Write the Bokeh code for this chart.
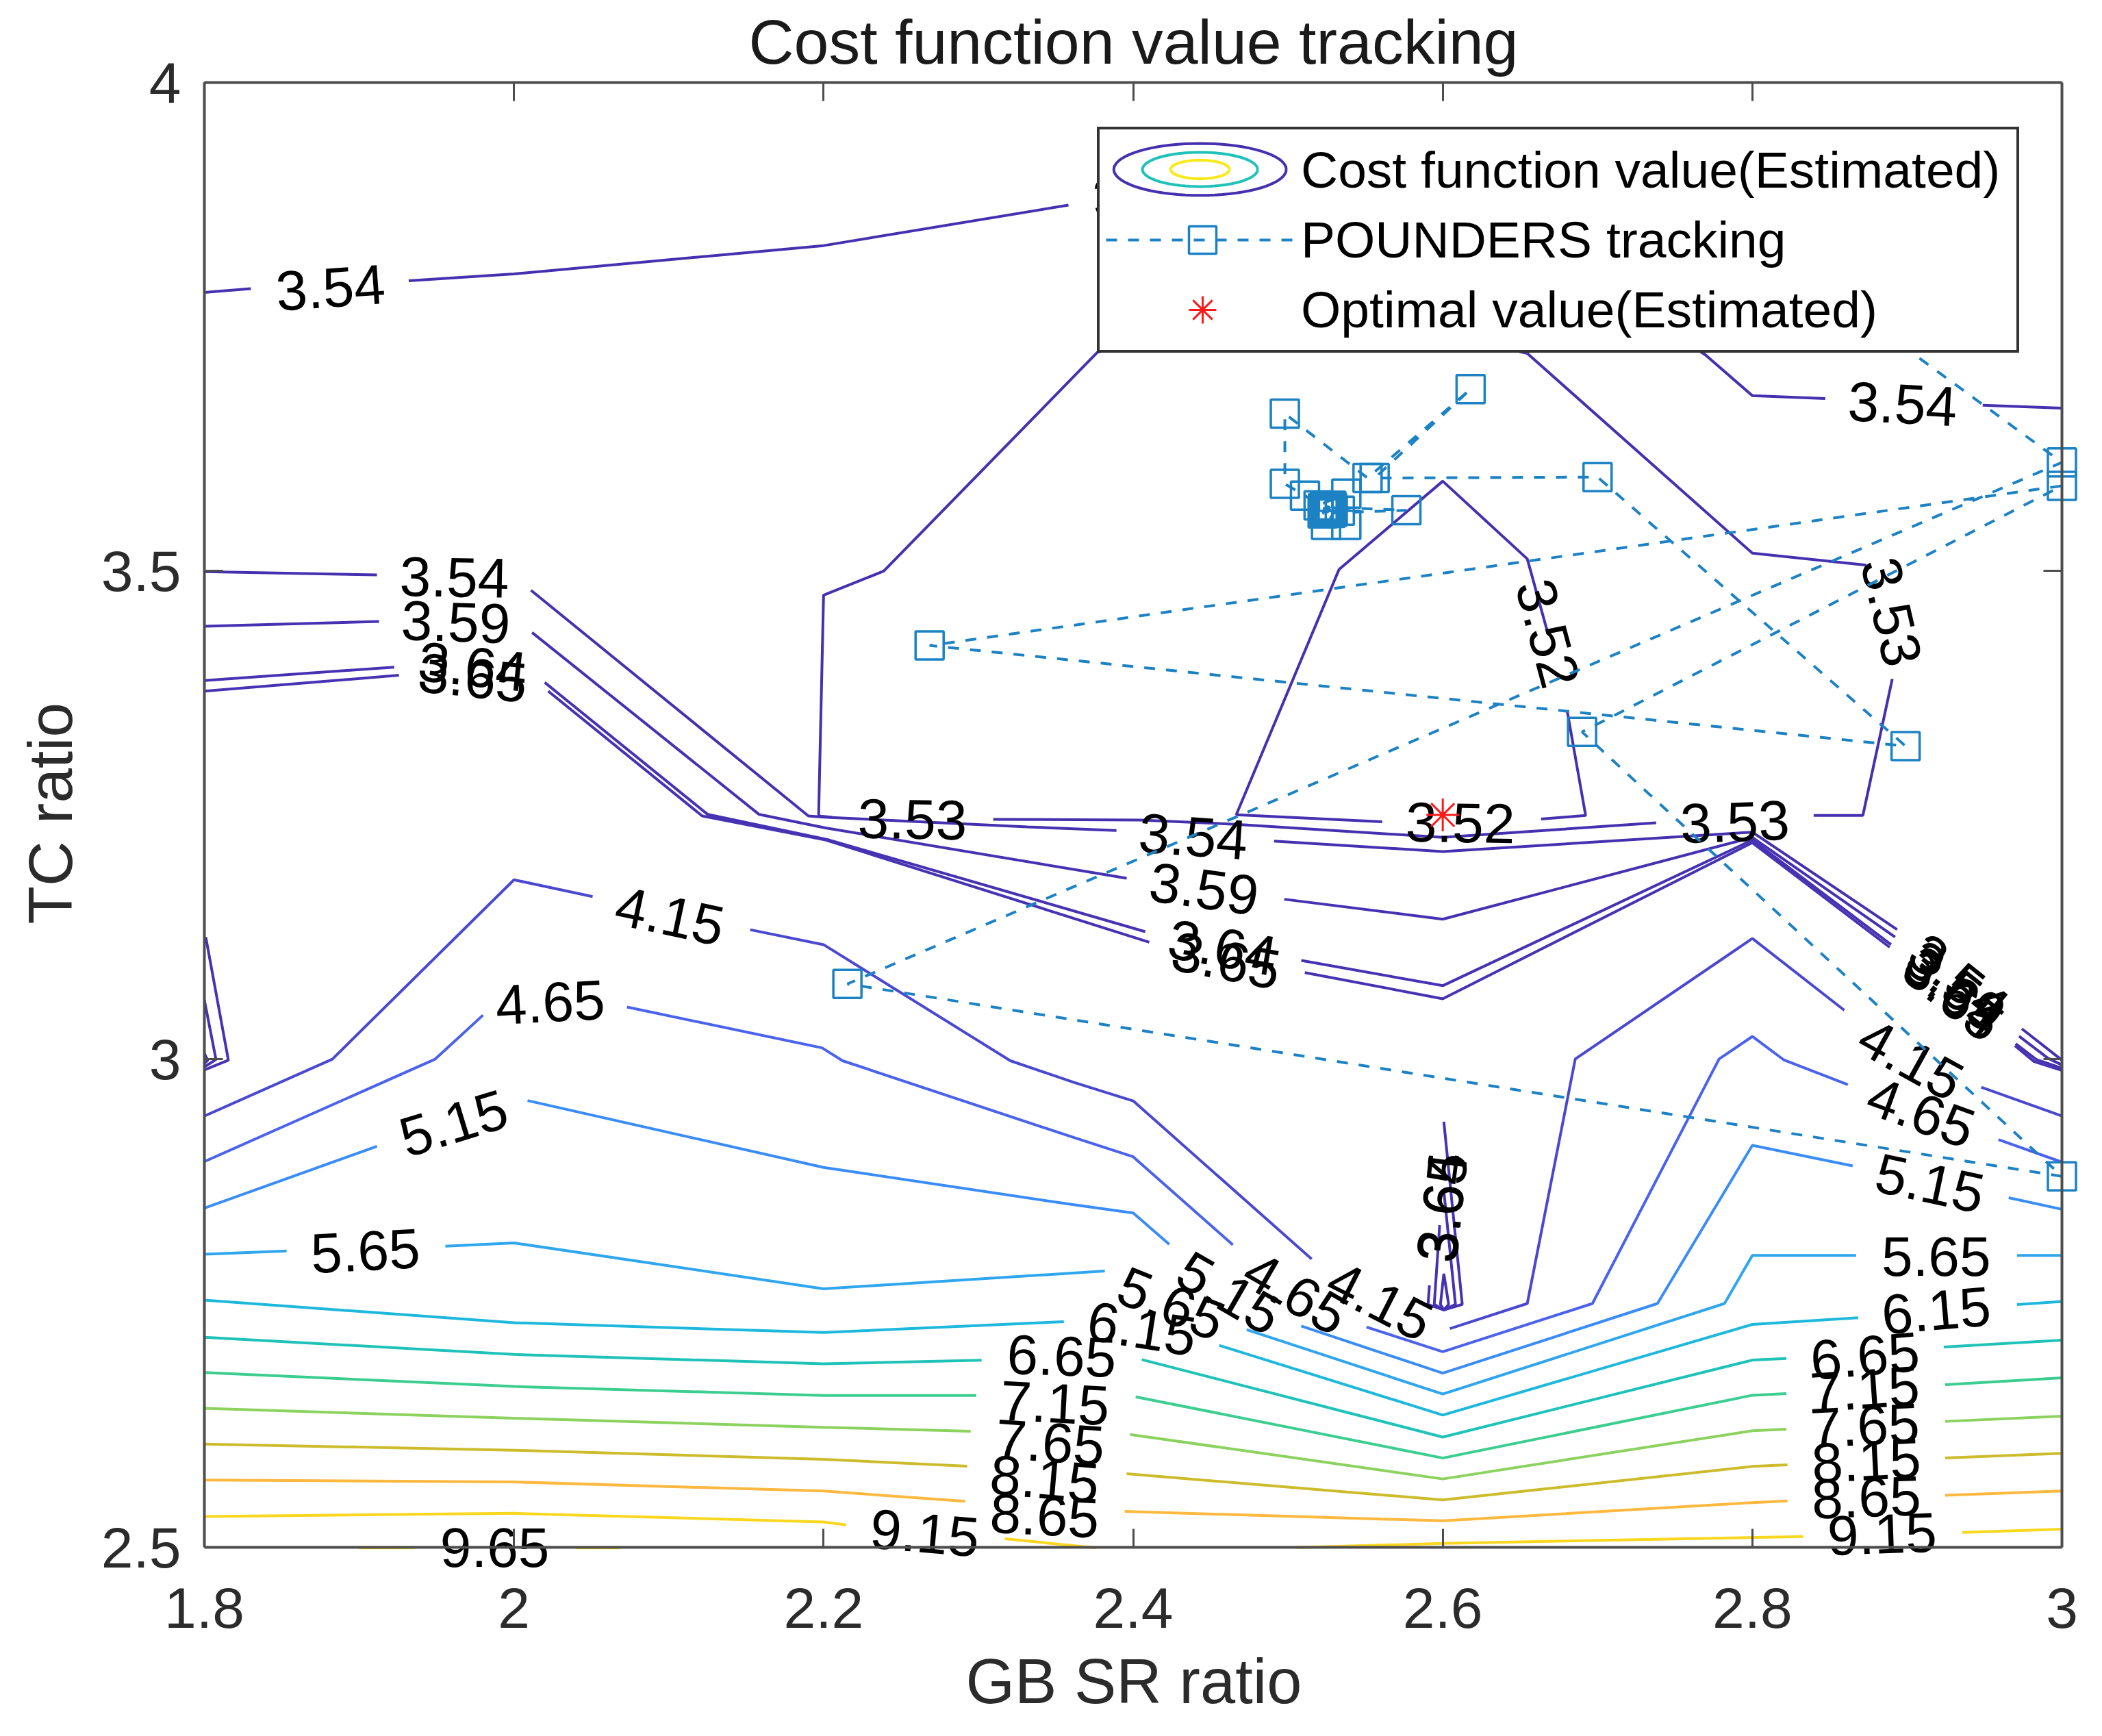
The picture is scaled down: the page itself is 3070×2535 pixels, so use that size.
import numpy as np
from bokeh.plotting import figure
from bokeh.embed import file_html
from bokeh.resources import INLINE
from bokeh.core.properties import value
from bokeh.models import FixedTicker, LinearAxis, Legend, LegendItem, Range1d, Title

FONT = "Liberation Sans"

title_text = "Cost function value tracking"
x_label = "GB SR ratio"
y_label = "TC ratio"
x_ticks = [1.8, 2.0, 2.2, 2.4, 2.6, 2.8, 3.0]
x_tick_labels = ["1.8", "2", "2.2", "2.4", "2.6", "2.8", "3"]
y_ticks = [2.5, 3.0, 3.5, 4.0]
y_tick_labels = ["2.5", "3", "3.5", "4"]

# contour polylines, per level; each piece is a run between two label gaps
c352 = [
    [(2.6679, 3.436), (2.6546, 3.5122), (2.6, 3.5918), (2.533, 3.5014), (2.4666, 3.2502), (2.5609, 3.2431)],
    [(2.6635, 3.2458), (2.6923, 3.2495), (2.6803, 3.3573)],
]
c353 = [
    [(2.6546, 3.7226), (2.5, 3.78), (2.3768, 3.7236), (2.2389, 3.4997), (2.2, 3.4751), (2.1968, 3.249), (2.2057, 3.2475)],
    [(2.3096, 3.2455), (2.4047, 3.2447), (2.4666, 3.2404), (2.6, 3.227), (2.7378, 3.242)],
    [(2.8396, 3.2495), (2.8714, 3.2495), (2.8904, 3.3893)],
    [(2.8736, 3.5058), (2.8, 3.5181), (2.6546, 3.7226)],
]
c354 = [
    [(1.8, 3.785), (1.83, 3.789)],
    [(1.932, 3.797), (2.0, 3.804), (2.2, 3.833), (2.3582, 3.8745)],
    [(2.45, 3.89), (2.6, 3.9), (2.7697, 3.7211), (2.8, 3.6793), (2.8471, 3.6764)],
    [(2.9488, 3.6695), (3.0, 3.6665)],
    [(1.8, 3.4992), (1.9115, 3.4958)],
    [(2.011, 3.48), (2.1902, 3.249), (2.2, 3.2478), (2.3317, 3.2377), (2.3892, 3.234)],
    [(2.491, 3.2232), (2.6, 3.2125), (2.8, 3.2324), (2.8935, 3.1327)],
    [(2.9741, 3.0311), (3.0, 2.9989)],
]
c359 = [
    [(1.8, 3.4432), (1.9128, 3.4481)],
    [(2.0117, 3.4368), (2.1584, 3.2505), (2.2013, 3.2367), (2.3958, 3.1852)],
    [(2.4976, 3.1637), (2.6, 3.1433), (2.8, 3.227), (2.8922, 3.125)],
    [(2.9723, 3.0234), (2.9909, 3.001), (3.0, 2.994)],
    [(1.8, 3.0058), (1.8022, 2.9989), (1.8, 2.9954)],
    [(2.6007, 2.7803), (2.6038, 2.7488), (2.6007, 2.7432), (2.5985, 2.7488), (2.6007, 2.7803)],
]
c364 = [
    [(1.8, 3.3876), (1.9226, 3.4014)],
    [(2.0199, 3.3856), (2.1252, 3.2505), (2.2035, 3.2244), (2.4078, 3.1305)],
    [(2.5086, 3.101), (2.6, 3.0752), (2.8, 3.2243), (2.8896, 3.1173)],
    [(2.9701, 3.0158), (2.9834, 2.9996), (3.0, 2.9907)],
    [(1.8, 3.0605), (1.8075, 2.9996), (1.8, 2.9919)],
    [(2.6007, 2.865), (2.6082, 2.7488), (2.6007, 2.7432), (2.5945, 2.7488), (2.598, 2.83)],
]
c365 = [
    [(1.8, 3.3768), (1.9257, 3.393)],
    [(2.0221, 3.3768), (2.1216, 3.249), (2.2013, 3.2244), (2.4104, 3.1197)],
    [(2.5109, 3.0886), (2.6, 3.0618), (2.8, 3.2216), (2.8887, 3.1145)],
    [(2.9696, 3.0137), (2.982, 2.9975), (3.0, 2.9884)],
    [(1.8009, 3.125), (1.8155, 2.9989), (1.8, 2.9889)],
    [(2.6007, 2.9359), (2.6126, 2.7488), (2.6007, 2.7432), (2.5905, 2.7488), (2.5914, 2.7684)],
]
c415 = [
    [(1.8, 2.9417), (1.8827, 3.0), (2.0, 3.1836), (2.0508, 3.1664)],
    [(2.1526, 3.1325), (2.2, 3.1172), (2.3207, 2.9983), (2.3618, 2.9761), (2.4, 2.9572), (2.5153, 2.7953)],
    [(2.6046, 2.724), (2.6546, 2.7497), (2.6856, 3.0001), (2.8, 3.1235), (2.8594, 3.05)],
    [(2.9479, 2.9712), (3.0, 2.9417)],
]
c465 = [
    [(1.8, 2.895), (1.9491, 3.0), (1.98, 3.045)],
    [(2.073, 3.0533), (2.199, 3.0115), (2.2123, 2.9983), (2.3618, 2.9196), (2.4, 2.9), (2.4644, 2.8098)],
    [(2.5507, 2.7256), (2.6, 2.7004), (2.6967, 2.7497), (2.7785, 3.0001), (2.8, 3.0232), (2.8205, 2.999), (2.8617, 2.9739)],
    [(2.959, 2.9176), (3.0, 2.8945)],
]
c515 = [
    [(1.8, 2.8474), (1.9115, 2.9108)],
    [(2.0088, 2.9575), (2.2, 2.8891), (2.3618, 2.8508), (2.4, 2.8425), (2.4233, 2.8103)],
    [(2.5086, 2.7266), (2.6, 2.6784), (2.7387, 2.7497), (2.8, 2.9117), (2.8648, 2.8907)],
    [(2.9656, 2.858), (3.0, 2.8462)],
]
c565 = [
    [(1.8, 2.8002), (1.8531, 2.8036)],
    [(1.9557, 2.8084), (2.0, 2.8118), (2.2, 2.7648), (2.3817, 2.783)],
    [(2.4733, 2.7229), (2.6, 2.657), (2.782, 2.7497), (2.8, 2.799), (2.867, 2.799)],
    [(2.971, 2.799), (3.0, 2.799)],
]
c615 = [
    [(1.8, 2.7532), (2.0, 2.7301), (2.2, 2.72), (2.3552, 2.7312)],
    [(2.4556, 2.7068), (2.6, 2.6355), (2.8, 2.7283), (2.8683, 2.7352)],
    [(2.971, 2.7486), (3.0, 2.7518)],
]
c665 = [
    [(1.8, 2.7152), (2.0, 2.6976), (2.2, 2.688), (2.3021, 2.6917)],
    [(2.4056, 2.6923), (2.6, 2.613), (2.8, 2.6918), (2.822, 2.6934)],
    [(2.9236, 2.7052), (3.0, 2.7122)],
]
c715 = [
    [(1.8, 2.679), (2.0, 2.6648), (2.2, 2.6555), (2.2986, 2.6555)],
    [(2.4016, 2.6542), (2.6, 2.5915), (2.8, 2.6558), (2.822, 2.6575)],
    [(2.9245, 2.6666), (3.0, 2.6736)],
]
c765 = [
    [(1.8, 2.6424), (2.0, 2.6323), (2.2, 2.623), (2.295, 2.6189)],
    [(2.398, 2.6156), (2.6, 2.5701), (2.8, 2.6194), (2.822, 2.621)],
    [(2.9245, 2.629), (3.0, 2.6344)],
]
c815 = [
    [(1.8, 2.6058), (2.0, 2.5995), (2.2, 2.5902), (2.2928, 2.5831)],
    [(2.3958, 2.5754), (2.6, 2.5486), (2.8, 2.5829), (2.8227, 2.5845)],
    [(2.9245, 2.5915), (3.0, 2.5963)],
]
c865 = [
    [(1.8, 2.569), (2.0, 2.567), (2.2, 2.5577), (2.2915, 2.5472)],
    [(2.3945, 2.5368), (2.6, 2.5272), (2.8, 2.5459), (2.8227, 2.5475)],
    [(2.9245, 2.5534), (3.0, 2.5577)],
]
c915 = [
    [(1.8, 2.5316), (2.0, 2.5349), (2.2, 2.526), (2.2145, 2.523)],
    [(2.3172, 2.5088), (2.376, 2.4995)],
    [(2.5056, 2.4998), (2.6, 2.5041), (2.8329, 2.5111)],
    [(2.9355, 2.5153), (3.0, 2.5186)],
]
c965 = [
    [(1.9, 2.4995), (1.9358, 2.4995)],
    [(2.0398, 2.4995), (2.0686, 2.4995)],
]

contour_levels = [c352, c353, c354, c359, c364, c365, c415, c465, c515, c565,
                  c615, c665, c715, c765, c815, c865, c915, c965]
contour_colors = ["#4630b0", "#4630b0", "#4630b0", "#4631b2", "#4632b3", "#4633b4",
                  "#4a48d0", "#4a62ec", "#3a8cf8", "#2fa6ee", "#1db8dc", "#1fc2b8",
                  "#3ccd90", "#8cd25f", "#ccbc2c", "#fdb83f", "#f9d71e", "#f9e81a"]

label_text = ["3.54", "3.54", "3.54", "3.59", "3.64", "3.65", "3.53", "3.54", "3.59", "3.64",
              "3.65", "3.52", "3.53", "3.52", "3.53", "4.15", "4.65", "5.15", "5.65", "9.65",
              "9.15", "6.65", "7.15", "7.65", "8.15", "8.65", "6.15", "5.65", "5.15", "4.65",
              "4.15", "4.15", "4.65", "5.15", "5.65", "6.15", "6.65", "7.15", "7.65", "8.15",
              "8.65", "9.15", "3.54", "3.59", "3.64", "3.65", "3.64", "3.65", "3.54"]
label_x = [1.8814, 2.897, 1.9615, 1.9624, 1.9734, 1.9734, 2.2574, 2.4388, 2.4458, 2.4578,
           2.46, 2.6113, 2.7887, 2.6679, 2.89, 2.1008, 2.0234, 1.961, 1.904, 1.9876,
           2.2654, 2.3538, 2.3494, 2.3463, 2.3428, 2.3428, 2.4056, 2.4246, 2.4622, 2.5051,
           2.5595, 2.9024, 2.909, 2.9147, 2.9187, 2.9187, 2.8727, 2.8727, 2.8727, 2.8736,
           2.8736, 2.8838, 2.9334, 2.9316, 2.9303, 2.9298, 2.5993, 2.6, 2.409]
label_y = [3.79, 3.671, 3.4934, 3.4476, 3.402, 3.3906, 3.2456, 3.228, 3.1744, 3.1144,
           3.101, 3.242, 3.243, 3.436, 3.458, 3.1467, 3.0582, 2.9344, 2.8036, 2.4999,
           2.5148, 2.6961, 2.6478, 2.6076, 2.5701, 2.5325, 2.724, 2.7497, 2.7604, 2.7604,
           2.7524, 2.9998, 2.9455, 2.873, 2.798, 2.7427, 2.6961, 2.6623, 2.6248, 2.5888,
           2.5513, 2.5138, 3.0815, 3.0745, 3.0689, 3.0654, 2.8482, 2.8482, 3.885]
label_angle = [4, -3, -1, -2, -6, -6, -1, -4, -8, -10,
               -11, -1, 2, -75, -77, -12, 3, 17, 3, 0,
               -5, -2, -3, -4, -5, -3, -9, -22, -30, -30,
               -27, -29, -20, -12, 0, 5, 5, 4, 3, 3,
               2, 2, -39, -39, -39, -39, 83, 84, 4]

# optimiser path, in visiting order
track_x = [2.7937, 3.0, 2.2154, 3.0, 2.69, 3.0, 2.2685, 2.899, 2.7, 2.556, 2.618, 2.5514, 2.498, 2.498,
           2.511, 2.5198, 2.5377, 2.5246, 2.5377, 2.5335, 2.528, 2.5224, 2.5289, 2.524, 2.5765,
           2.5275, 2.5232, 2.5262, 2.525, 2.5284, 2.5228, 2.527, 2.5246, 2.5258, 2.5237, 2.5266,
           2.5254, 2.5243, 2.5272, 2.5235, 2.5278, 2.5226, 2.5287, 2.5256]
track_y = [3.85, 3.611, 3.077, 2.88, 3.335, 3.587, 3.4235, 3.3205, 3.596, 3.595, 3.686, 3.595, 3.661, 3.589,
           3.577, 3.567, 3.579, 3.547, 3.547, 3.5615, 3.5667, 3.5588, 3.5605, 3.5652, 3.562,
           3.5592, 3.5635, 3.5662, 3.5598, 3.5645, 3.5612, 3.5625, 3.5658, 3.5602, 3.5648, 3.5595,
           3.5638, 3.5618, 3.5655, 3.5608, 3.5628, 3.5642, 3.5622, 3.561]
optimal_x = [2.6]
optimal_y = [3.25]

legend_labels = ["Cost function value(Estimated)", "POUNDERS tracking", "Optimal value(Estimated)"]
legend_box = dict(left=2.3769, right=2.971, top=3.9533, bottom=3.7242)
legend_icon_x = 2.4432
legend_icon_y = 3.911
legend_icon_half_x = [0.0557, 0.0372, 0.019]
legend_icon_half_y = [0.0266, 0.0175, 0.0095]
legend_icon_colors = ["#4630b0", "#1fc2b8", "#f9e81a"]

TRACK = "#1c82c4"
AXIS = "#4d4d4d"
TICK_TEXT = "#2b2b2b"
X_LIMITS = (1.8, 3.0)
Y_LIMITS = (2.5, 4.0)
# the frame runs a little past the axes so that marks and labels on the limits stay whole
X_SLACK = 0.0115
Y_SLACK = 0.035

p = figure(width=3054, height=2527, output_backend="svg", toolbar_location=None,
           x_range=Range1d(X_LIMITS[0], X_LIMITS[1] + X_SLACK),
           y_range=Range1d(Y_LIMITS[0] - Y_SLACK, Y_LIMITS[1]),
           min_border_left=298, min_border_right=17, min_border_top=120, min_border_bottom=218,
           background_fill_color="white", border_fill_color="white", outline_line_color=None)
p.grid.visible = False

p.title.text = title_text
p.title.align = "left"
p.title.text_font = FONT
p.title.text_font_size = "91.5px"
p.title.text_font_style = "normal"
p.title.text_color = "#1a1a1a"
p.title.offset = 795
p.title.standoff = 14
p.title.vertical_align = "top"

def style_axis(ax, ticks, labels, bounds):
    ax.ticker = FixedTicker(ticks=ticks)
    ax.major_label_overrides = dict(zip(ticks, labels))
    ax.bounds = bounds
    ax.major_tick_in = 27
    ax.major_tick_out = 0
    ax.minor_tick_in = 0
    ax.minor_tick_out = 0
    ax.major_tick_line_color = AXIS
    ax.major_tick_line_width = 3
    ax.axis_line_color = AXIS
    ax.axis_line_width = 4
    ax.major_label_text_font = FONT
    ax.major_label_text_font_size = "84px"
    ax.major_label_text_color = TICK_TEXT

style_axis(p.xaxis[0], x_ticks, x_tick_labels, X_LIMITS)
style_axis(p.yaxis[0], y_ticks, y_tick_labels, Y_LIMITS)
# the bottom axis only carries the texts; its rule and ticks sit on the lower limit (below)
p.xaxis[0].axis_line_color = None
p.xaxis[0].major_tick_line_color = None
p.xaxis[0].major_label_standoff = 9
p.yaxis[0].major_label_standoff = 34

bottom_rule = LinearAxis()
style_axis(bottom_rule, x_ticks, [""] * len(x_ticks), X_LIMITS)
bottom_rule.fixed_location = Y_LIMITS[0]
top_axis = LinearAxis()
style_axis(top_axis, x_ticks, [""] * len(x_ticks), X_LIMITS)
right_axis = LinearAxis()
style_axis(right_axis, y_ticks, [""] * len(y_ticks), Y_LIMITS)
right_axis.fixed_location = X_LIMITS[1]
for ax in (bottom_rule, top_axis, right_axis):
    ax.major_label_text_font_size = "1px"
    ax.major_label_standoff = 0
p.add_layout(bottom_rule, "below")
p.add_layout(top_axis, "above")
p.add_layout(right_axis, "right")

# axis titles centred on the axes, not on the slightly larger frame
p.add_layout(Title(text=x_label, align="left", offset=1112, standoff=44, text_font=FONT,
                   text_font_size="92px", text_font_style="normal", text_color=TICK_TEXT), "below")
p.add_layout(Title(text=y_label, align="left", offset=960, standoff=41, text_font=FONT,
                   text_font_size="91px", text_font_style="normal", text_color=TICK_TEXT), "left")

for pieces, color in zip(contour_levels, contour_colors):
    p.multi_line(xs=[[pt[0] for pt in piece] for piece in pieces],
                 ys=[[pt[1] for pt in piece] for piece in pieces],
                 line_color=color, line_width=4)

p.text(x=label_x, y=label_y, text=label_text, angle=label_angle, angle_units="deg",
       text_align="center", text_baseline="middle", text_color="black",
       text_font=value(FONT), text_font_size="82px")

track_line = p.line(track_x, track_y, line_color=TRACK, line_width=4, line_dash="16 16")
track_marks = p.scatter(track_x, track_y, marker="square", size=41, fill_color=None,
                        line_color=TRACK, line_width=3.5)
optimal = p.scatter(optimal_x, optimal_y, marker="asterisk", size=48, line_color="#ff1a1a",
                    line_width=3)
contour_key = p.line([], [], line_alpha=0)

# opaque patch behind the legend, then the nested rings of the contour key
p.quad(fill_color="white", fill_alpha=1, line_color=None, **{k: [v] for k, v in legend_box.items()})
turn = np.linspace(0, 2 * np.pi, 73)
for half_x, half_y, color in zip(legend_icon_half_x, legend_icon_half_y, legend_icon_colors):
    p.line(legend_icon_x + half_x * np.cos(turn), legend_icon_y + half_y * np.sin(turn),
           line_color=color, line_width=4)

legend = Legend(items=[
    LegendItem(label=legend_labels[0], renderers=[contour_key]),
    LegendItem(label=legend_labels[1], renderers=[track_line, track_marks]),
    LegendItem(label=legend_labels[2], renderers=[optimal]),
], location=(1304, 1794), orientation="vertical",
    glyph_width=282, glyph_height=100, label_standoff=3, spacing=2, padding=9, margin=0,
    label_text_font=FONT, label_text_font_size="75px", label_text_color="black",
    label_text_baseline="middle", label_height=100, label_width=1036,
    border_line_color="#333333", border_line_width=4, border_line_alpha=1.0,
    background_fill_alpha=0.0)
p.add_layout(legend, "center")

open("out.html", "w").write(file_html(p, INLINE))
